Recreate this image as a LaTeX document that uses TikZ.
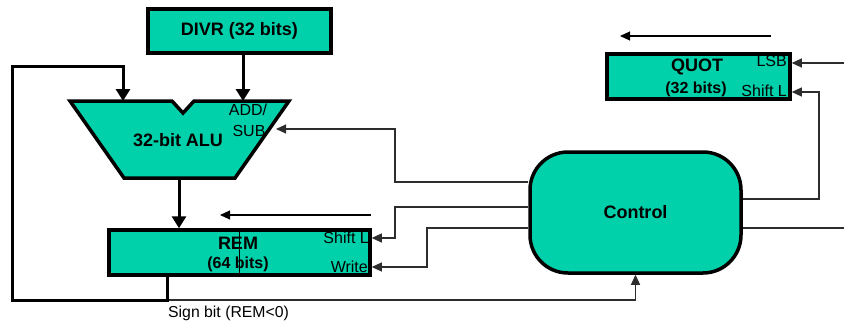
\documentclass[tikz,border=0pt]{standalone}
\usepackage{fontspec}
\setmainfont{Liberation Sans}
\usetikzlibrary{arrows.meta}
\definecolor{regfill}{RGB}{0,209,170}
\definecolor{wire}{RGB}{45,45,45}
\begin{document}
\begin{tikzpicture}[x=1pt,y=-1pt,
  reg/.style={draw=black, line width=3.5pt, fill=regfill, inner sep=0pt, line join=miter},
  bus/.style={line width=3pt, -{Triangle[length=12pt,width=14pt]}},
  sig/.style={draw=wire, line width=1.1pt, -{Triangle[length=10pt,width=9pt]}},
  sigline/.style={draw=wire, line width=1.1pt},
  shiftdir/.style={draw=black, line width=1.1pt, -{Triangle[length=10pt,width=9pt]}},
  title/.style={font=\fontsize{18}{20}\selectfont\bfseries, inner sep=0pt},
  subtitle/.style={font=\fontsize{16}{18}\selectfont\bfseries, inner sep=0pt},
  lab/.style={font=\fontsize{16}{18}\selectfont, inner sep=0pt},
  small/.style={font=\fontsize{15.8}{18}\selectfont, inner sep=0pt},
]
\useasboundingbox (0,0) rectangle (844,324);

% Divisor register
\node[reg, title, minimum width=183pt, minimum height=44pt] (divr) at (239.5,31) {DIVR (32 bits)};

% ALU
\draw[reg] (70,101) -- (172,101) -- (183,113) -- (194,101) -- (289,101)
  -- (235,178) -- (124,178) -- cycle;
\node[title] (alulab) at (178,140) {32-bit ALU};
\node[lab] (addlab) at (248,110) {ADD/};
\node[lab] (sublab) at (249,131) {SUB};
\coordinate (aluA) at (123,101);
\coordinate (aluB) at (243,101);
\coordinate (aluOut) at (179,178);
\coordinate (aluCtl) at (276,129);

% Remainder register
\node[reg, minimum width=261pt, minimum height=45pt] (rem) at (239.5,252.5) {};
\draw[line width=0.9pt] (239,230) -- (239,275);
\node[title] (remlab) at (238,243) {REM};
\node[subtitle] (remsub) at (238,264) {(64 bits)};
\node[lab, anchor=east] (remshl) at (369,238) {Shift L};
\node[lab, anchor=east] (remwr) at (368,267) {Write};
\path (rem.east) ++(0,-14.5) coordinate (remShift);
\path (rem.east) ++(0,14.5) coordinate (remWrite);

% Quotient register
\node[reg, minimum width=183pt, minimum height=45pt] (quot) at (698.5,76.5) {};
\node[title] (quotlab) at (697,67) {QUOT};
\node[subtitle] (quotsub) at (696,89) {(32 bits)};
\node[lab, anchor=east] (lsblab) at (787,61) {LSB};
\node[lab, anchor=east] (qshl) at (787,91) {Shift L};
\path (quot.east) ++(0,-13.5) coordinate (quotLSB);
\path (quot.east) ++(0,15.5) coordinate (quotShift);

% Control unit
\node[reg, title, rounded corners=38pt, minimum width=211pt, minimum height=121pt] (ctrl) at (635.5,212.5) {Control};
\path (ctrl.west) ++(0,-30.5) coordinate (cAdd);
\path (ctrl.west) ++(0,-5.5) coordinate (cShift);
\path (ctrl.west) ++(0,15.5) coordinate (cWrite);
\path (ctrl.east) ++(0,-13.5) coordinate (cQuot);
\path (ctrl.east) ++(0,15.5) coordinate (cOut);

% Data paths
\draw[bus] (divr.south -| aluB) -- (aluB);
\draw[bus] (aluOut) -- (aluOut |- rem.north);
\coordinate (remTap) at (167,275);
\draw[bus] (remTap) -- (167,300) -- (12,300) -- (12,66) -- (123,66) -- (aluA);

% Shift direction indicators
\coordinate (remDirA) at (371,215);
\coordinate (remDirB) at (220,215);
\draw[shiftdir] (remDirA) -- (remDirB);
\coordinate (quotDirA) at (771,36);
\coordinate (quotDirB) at (620,36);
\draw[shiftdir] (quotDirA) -- (quotDirB);

% Control signals
\draw[sig] (cAdd) -- (395,182) -- (395,129) -- (aluCtl);
\draw[sig] (cShift) -- (395,207) -- (395,238) -- (remShift);
\draw[sig] (cWrite) -- (427,228) -- (427,267) -- (remWrite);
\coordinate (signStart) at (169,300);
\draw[sig] (signStart) -- (signStart -| ctrl.south) -- (ctrl.south);
\node[small, anchor=west] (signlab) at (168,313) {Sign bit (REM<0)};
\draw[sig] (cQuot) -- (819,199) -- (819,92) -- (quotShift);
\coordinate (outEnd) at (844,228);
\draw[sigline] (cOut) -- (outEnd);
\coordinate (lsbIn) at (844,63);
\draw[sig] (lsbIn) -- (quotLSB);
\end{tikzpicture}
\end{document}
